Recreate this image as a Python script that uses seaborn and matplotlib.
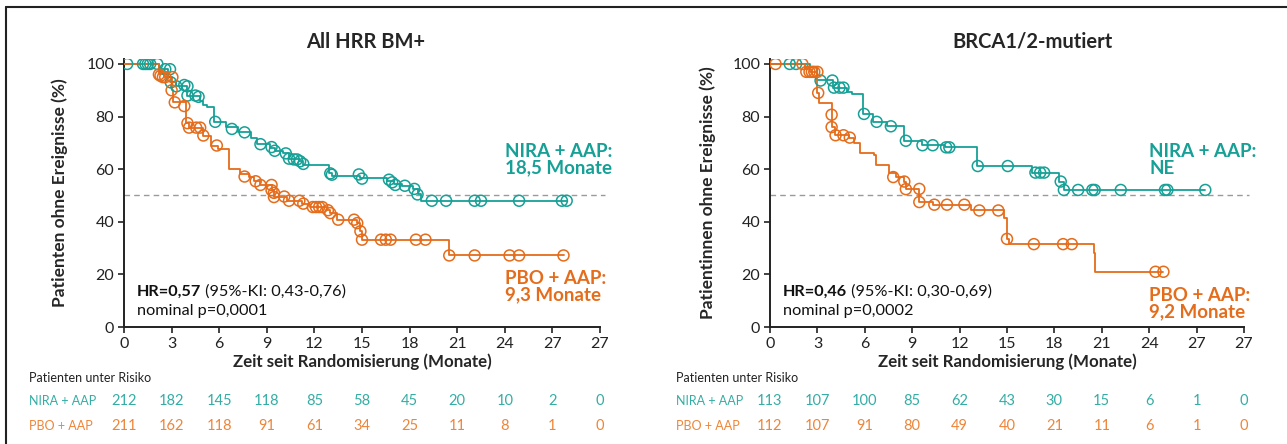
import matplotlib
matplotlib.use("Agg")
import matplotlib.pyplot as plt
import seaborn as sns
from matplotlib.lines import Line2D

# ---------------- data ----------------
tick_pos = [0, 3, 6, 9, 12, 15, 18, 21, 24, 27, 30]
tick_labels = ["0", "3", "6", "9", "12", "15", "18", "21", "24", "27", "27"]

# Left panel: All HRR BM+
L_nira_t = [0, 2.2, 2.8, 2.95, 3.3, 4.0, 4.8, 5.0, 5.2, 5.7, 6.4, 7.2, 8.0, 8.4, 9.2, 9.5,
            10.0, 10.4, 11.0, 11.3, 12.9, 13.1, 14.9, 16.6, 17.0, 17.5, 18.2, 18.5, 18.7, 27.9]
L_nira_s = [100, 98, 95, 93, 91.5, 88, 86, 84.5, 83.5, 78, 76, 74, 72, 69.5, 68, 67,
            66, 64, 63, 61.5, 58.5, 57.5, 56.5, 55.5, 54.5, 53.7, 52.5, 50.5, 48, 48]
L_nira_ct = [0.2, 1.2, 1.35, 1.5, 1.65, 2.1, 2.6, 2.9, 2.95, 3.3, 3.8, 4.0, 4.0, 4.5, 4.7, 5.75,
             6.8, 7.6, 8.6, 9.3, 9.5, 10.2, 10.4, 10.7, 10.9, 11.1, 11.3, 13.0, 13.1, 14.8,
             15.0, 16.7, 16.9, 17.1, 17.7, 18.3, 18.5, 19.4, 20.3, 22.1, 22.5, 24.9, 27.6, 27.9]
L_nira_cs = [100, 100, 100, 100, 100, 100, 98, 98, 93, 91.5, 92, 91.5, 88, 88, 87.5, 78,
             75.3, 74, 69.5, 68.4, 67, 66, 64, 63.7, 63.7, 63, 62, 58.4, 57.9, 58,
             56.4, 56, 55, 54, 53.7, 52.5, 50.4, 48, 48, 48, 48, 48, 48, 48]

L_pbo_t = [0, 2.2, 2.5, 3.0, 3.1, 3.9, 4.1, 5.0, 5.5, 5.9, 6.6, 7.3, 7.9, 8.2, 8.6, 9.3, 9.45,
           10.3, 11.2, 11.7, 12.8, 13.0, 13.4, 14.7, 14.85, 15.0, 20.5, 27.7]
L_pbo_s = [100, 96, 95, 90, 85.4, 77.5, 75.8, 72.8, 69, 67.5, 60, 58, 57, 55.4, 54, 52, 49.4,
           48, 46.9, 45.6, 44.4, 43.3, 40.8, 39.5, 36.4, 33.2, 27.2, 27.2]
L_pbo_ct = [2.2, 2.3, 2.45, 2.6, 3.05, 3.0, 3.2, 3.8, 4.0, 4.1, 4.55, 4.8, 5.0, 5.85, 7.6, 8.3,
            8.6, 9.3, 9.3, 9.45, 9.45, 10.1, 10.4, 11.05, 11.3, 11.9, 12.1, 12.3, 12.5, 12.85,
            13.0, 13.5, 14.5, 14.7, 14.9, 15.0, 16.2, 16.5, 16.8, 18.4, 19.0, 20.5, 22.1,
            24.3, 24.9, 27.7]
L_pbo_cs = [96, 95.5, 95, 95, 95, 90, 85.4, 84, 77.5, 75.8, 75.8, 75.8, 72.8, 69, 57.2, 55.4,
            54, 54, 52, 51, 49.4, 49.6, 48, 48, 46.9, 45.6, 45.6, 45.6, 45.6, 44.4,
            43.3, 40.8, 40.8, 39.5, 36.4, 33.2, 33.2, 33.2, 33.2, 33.2, 33.2, 27.2, 27.2,
            27.2, 27.2, 27.2]

# Right panel: BRCA1/2-mutiert
R_nira_t = [0, 2.5, 3.0, 4.0, 4.9, 5.2, 5.9, 6.5, 7.4, 8.5, 9.6, 11.1, 13.1, 16.6, 18.3, 18.6, 27.55]
R_nira_s = [100, 99, 94, 91, 89.5, 88.5, 81, 78, 76.3, 70.8, 69.1, 68.3, 61.2, 58.7, 55.3, 52.1, 52.1]
R_nira_ct = [1.25, 1.65, 3.2, 3.95, 4.05, 4.4, 4.65, 5.95, 6.75, 7.65, 8.6, 9.65, 10.3, 11.15,
             11.35, 13.15, 15.05, 16.8, 17.1, 17.35, 18.4, 18.6, 19.5, 20.4, 20.55, 22.2,
             25.0, 25.15, 27.55]
R_nira_cs = [100, 100, 93.7, 93.7, 91, 91, 91, 81, 78, 76.3, 70.8, 69.1, 69.1, 68.3,
             68.3, 61.2, 61.2, 58.7, 58.7, 58.7, 55.3, 52.1, 52.1, 52.1, 52.1, 52.1,
             52.1, 52.1, 52.1]

R_pbo_t = [0, 2.2, 2.5, 3.0, 3.1, 3.9, 3.95, 4.1, 5.0, 5.3, 5.7, 6.6, 6.7, 7.5, 8.0, 8.5, 8.6,
           9.45, 10.3, 12.7, 14.8, 15.0, 15.1, 20.5, 20.6, 24.9]
R_pbo_s = [100, 98, 97, 89, 85, 80.7, 76, 72.9, 72, 69.8, 66.2, 65.4, 61.4, 58.5, 57, 55.3, 52.4,
           47.5, 46.5, 44.3, 41.6, 33.5, 31.5, 28, 21, 21]
R_pbo_ct = [0.35, 2.05, 2.3, 2.5, 2.65, 2.8, 3.0, 3.05, 3.9, 3.9, 4.15, 4.65, 5.05, 7.8, 8.5,
            8.6, 9.45, 9.45, 10.4, 11.2, 12.3, 13.25, 14.45, 15.0, 16.7, 18.55, 19.1, 24.4, 24.9]
R_pbo_cs = [100, 100, 97, 97, 97, 97, 97, 89, 80.7, 76, 72.9, 72.9, 72, 57, 55.3,
            52.4, 52.5, 47.5, 46.5, 46.5, 46.5, 44.3, 44.3, 33.5, 31.5, 31.5, 31.5, 21, 21]

L_risk_nira = [212, 182, 145, 118, 85, 58, 45, 20, 10, 2, 0]
L_risk_pbo = [211, 162, 118, 91, 61, 34, 25, 11, 8, 1, 0]
R_risk_nira = [113, 107, 100, 85, 62, 43, 30, 15, 6, 1, 0]
R_risk_pbo = [112, 107, 91, 80, 49, 40, 21, 11, 6, 1, 0]

# ---------------- style ----------------
sns.set_style("ticks")
plt.rcParams["font.family"] = ["Lato", "DejaVu Sans"]

TEAL = "#16A096"
ORANGE = "#E56C1B"
TEAL_T = "#34ADA4"
ORANGE_T = "#EE8538"

fig = plt.figure(figsize=(12.87, 4.44), dpi=100)
W, H = 1287, 444

def ax_rect(x0, x1, ytop, ybot):
    return [x0 / W, 1 - ybot / H, (x1 - x0) / W, (ybot - ytop) / H]

axL = fig.add_axes(ax_rect(124, 600, 58.7, 327))
axR = fig.add_axes(ax_rect(770, 1244, 58.7, 327))


def draw_panel(ax, nt, ns, nct, ncs, pt, ps, pct, pcs, ylabel, hr, ci, p, nira_med, pbo_med,
               pbo_y, ylpad):
    sns.lineplot(x=nt, y=ns, ax=ax, color=TEAL, drawstyle="steps-post", estimator=None,
                 lw=1.3, sort=False, zorder=3)
    sns.lineplot(x=pt, y=ps, ax=ax, color=ORANGE, drawstyle="steps-post", estimator=None,
                 lw=1.3, sort=False, zorder=3)
    sns.scatterplot(x=nct, y=ncs, ax=ax, marker="o", s=62, facecolor="none",
                    edgecolor=TEAL, linewidth=1.1, zorder=4)
    sns.scatterplot(x=pct, y=pcs, ax=ax, marker="o", s=62, facecolor="none",
                    edgecolor=ORANGE, linewidth=1.1, zorder=4)
    ax.axhline(50, color="#9a9a9a", lw=1.0, ls=(0, (4, 3)), xmax=1.01, clip_on=False,
               zorder=1)
    ax.set_xlim(0, 30)
    ax.set_ylim(0, 102)
    ax.set_xticks(tick_pos)
    ax.set_xticklabels(tick_labels)
    ax.set_yticks([0, 20, 40, 60, 80, 100])
    for s in ["top", "right"]:
        ax.spines[s].set_visible(False)
    for s in ["left", "bottom"]:
        ax.spines[s].set_linewidth(1.4)
        ax.spines[s].set_color("#222222")
    ax.tick_params(axis="both", length=4, width=1.2, labelsize=11.5, colors="#222222",
                   pad=3)
    ax.set_xlabel("Zeit seit Randomisierung (Monate)", fontsize=12.2, fontweight="bold",
                  labelpad=2)
    ax.set_ylabel(ylabel, fontsize=12.5, fontweight="bold", labelpad=ylpad)
    # annotations
    ax.text(24.0, 63.5, "NIRA + AAP:\n" + nira_med, color=TEAL, fontsize=13.5,
            fontweight="bold", ha="left", va="center", linespacing=0.95)
    ax.text(24.0, pbo_y, "PBO + AAP:\n" + pbo_med, color=ORANGE, fontsize=13.5,
            fontweight="bold", ha="left", va="center", linespacing=0.95)
    t1 = ax.text(0.8, 13.3, hr, fontsize=11.7, fontweight="bold", ha="left",
                 va="center", color="#111111")
    ax.annotate(" " + ci, xy=(1, 0.5), xycoords=t1, fontsize=11.7, ha="left",
                va="center", color="#111111")
    ax.text(0.8, 6.0, p, fontsize=11.7, ha="left", va="center", color="#111111")


draw_panel(axL, L_nira_t, L_nira_s, L_nira_ct, L_nira_cs, L_pbo_t, L_pbo_s, L_pbo_ct,
           L_pbo_cs, "Patienten ohne Ereignisse (%)", "HR=0,57", "(95%-KI: 0,43-0,76)",
           "nominal p=0,0001", "18,5 Monate", "9,3 Monate", 15.5, 13)
draw_panel(axR, R_nira_t, R_nira_s, R_nira_ct, R_nira_cs, R_pbo_t, R_pbo_s, R_pbo_ct,
           R_pbo_cs, "Patientinnen ohne Ereignisse (%)", "HR=0,46", "(95%-KI: 0,30-0,69)",
           "nominal p=0,0002", "NE", "9,2 Monate", 9.0, 12)

# titles
fig.text(366 / W, 1 - 42 / H, "All HRR BM+", fontsize=14.5, fontweight="bold",
         ha="center", va="center")
fig.text(1032 / W, 1 - 42 / H, "BRCA1/2-mutiert", fontsize=14.5, fontweight="bold",
         ha="center", va="center")

# risk tables
def risk_table(ax, x_label_px, nira, pbo):
    fig.text(x_label_px / W, 1 - 378 / H, "Patienten unter Risiko", fontsize=9,
             ha="left", va="center", color="#222222")
    fig.text(x_label_px / W, 1 - 401 / H, "NIRA + AAP", fontsize=9, ha="left",
             va="center", color=TEAL_T)
    fig.text(x_label_px / W, 1 - 426 / H, "PBO + AAP", fontsize=9, ha="left",
             va="center", color=ORANGE_T)
    tr = matplotlib.transforms.blended_transform_factory(ax.transData, fig.transFigure)
    for xp, a, b in zip(tick_pos, nira, pbo):
        ax.text(xp, 1 - 401 / H, str(a), transform=tr, fontsize=10.5, ha="center",
                va="center", color=TEAL_T, clip_on=False)
        ax.text(xp, 1 - 426 / H, str(b), transform=tr, fontsize=10.5, ha="center",
                va="center", color=ORANGE_T, clip_on=False)


risk_table(axL, 28.6, L_risk_nira, L_risk_pbo)
risk_table(axR, 676, R_risk_nira, R_risk_pbo)

# outer frame (top and left)
fig.add_artist(Line2D([6 / W, 1], [1 - 7 / H, 1 - 7 / H], transform=fig.transFigure,
                      color="#222222", lw=1.5))
fig.add_artist(Line2D([6 / W, 6 / W], [0, 1 - 7 / H], transform=fig.transFigure,
                      color="#222222", lw=1.5))

fig.savefig("out.png", dpi=100)
